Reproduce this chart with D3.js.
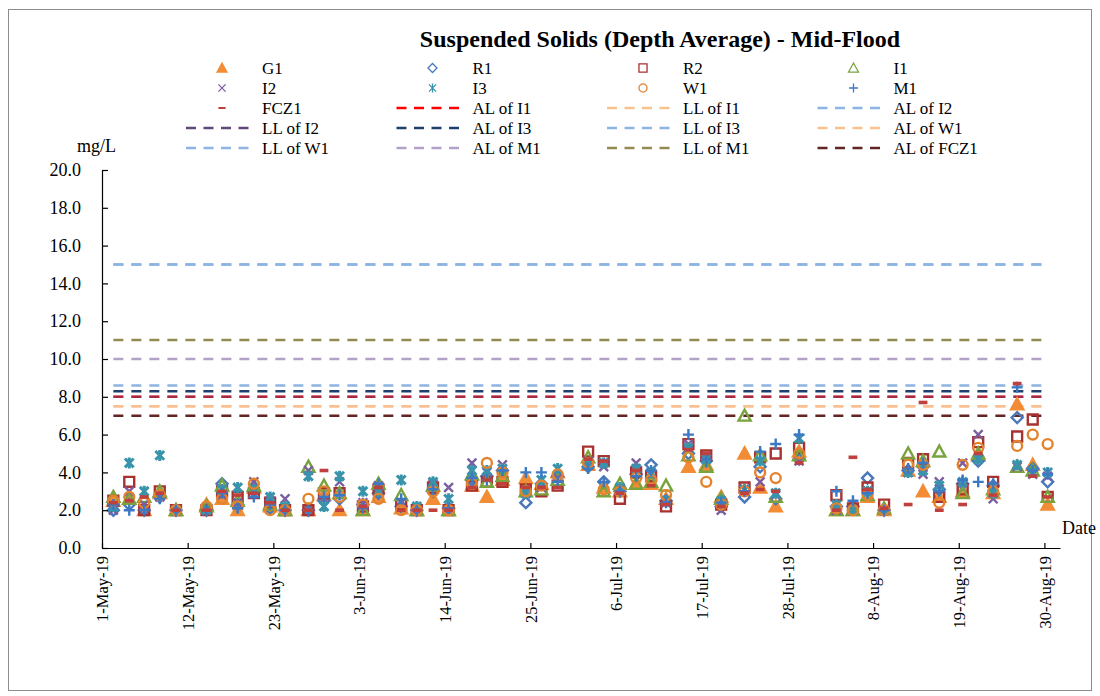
<!DOCTYPE html>
<html>
<head>
<meta charset="utf-8">
<script src="https://cdn.jsdelivr.net/npm/d3@7"></script>
<style>
body { margin: 0; background: #fff; }
svg text { font-family: "Liberation Serif", "Times New Roman", serif; fill: #000; }
</style>
</head>
<body>
<svg id="chart" width="1100" height="696"></svg>
<script>
// sampling times (mid-flood)
var sampleTimes = ["2019-05-02 11:00","2019-05-04 12:00","2019-05-06 10:00","2019-05-08 10:00","2019-05-10 12:00",
  "2019-05-14 10:00","2019-05-16 10:00","2019-05-18 10:00","2019-05-20 12:00","2019-05-22 14:00","2019-05-24 12:00",
  "2019-05-27 12:00","2019-05-29 12:00","2019-05-31 12:00","2019-06-03 12:00","2019-06-05 12:00","2019-06-08 10:00",
  "2019-06-10 10:00","2019-06-12 12:00","2019-06-14 12:00","2019-06-17 12:00","2019-06-19 10:00","2019-06-21 10:00",
  "2019-06-24 10:00","2019-06-26 10:00","2019-06-28 12:00","2019-07-02 10:00","2019-07-04 10:00","2019-07-06 12:00",
  "2019-07-08 14:00","2019-07-10 12:00","2019-07-12 10:00","2019-07-15 07:00","2019-07-17 14:00","2019-07-19 12:00",
  "2019-07-22 12:00","2019-07-24 12:00","2019-07-26 12:00","2019-07-29 12:00","2019-08-03 07:00","2019-08-05 10:00",
  "2019-08-07 07:00","2019-08-09 10:00","2019-08-12 12:00","2019-08-14 10:00","2019-08-16 12:00","2019-08-19 12:00",
  "2019-08-21 12:00","2019-08-23 10:00","2019-08-26 12:00","2019-08-28 12:00","2019-08-30 10:00"];

var g1 = [2.5,2.6,2.0,2.9,2.0,2.3,2.6,2.0,3.2,2.2,2.0,2.0,2.8,2.0,2.0,2.7,2.1,2.0,2.6,2.0,3.3,2.7,3.6,3.7,3.4,4.0,4.4,3.2,3.0,3.4,3.4,2.6,4.3,4.4,2.7,5.0,3.2,2.2,5.1,2.0,2.0,2.7,2.0,4.1,3.0,2.7,3.0,4.9,2.9,7.6,4.4,2.3];
var r1 = [2.0,2.3,2.0,2.7,2.0,2.0,3.4,2.3,3.0,2.1,2.0,2.0,2.5,2.6,2.3,2.9,2.2,2.0,3.0,2.1,3.6,3.8,4.1,2.4,3.4,3.8,4.3,3.5,3.0,3.9,4.4,2.5,5.0,4.6,2.2,2.7,4.3,2.6,4.7,2.2,2.2,3.7,2.0,4.1,4.3,3.1,3.4,4.6,3.3,6.9,4.2,3.5];
var r2 = [2.5,3.5,2.0,3.0,2.0,2.0,3.0,2.7,2.9,2.4,2.0,2.0,2.9,2.9,2.2,3.1,2.3,2.0,3.2,2.0,3.3,3.5,3.5,3.1,3.0,3.3,5.1,4.6,2.6,4.0,3.8,2.2,5.5,4.9,2.3,3.2,4.8,5.0,5.3,2.8,2.1,3.2,2.3,4.5,4.7,2.7,3.1,5.6,3.5,5.9,6.8,2.7];
var i1 = [2.7,2.6,2.7,3.0,2.0,2.2,3.3,2.5,3.3,2.3,2.0,4.3,3.3,2.9,2.0,3.4,2.8,2.0,3.3,2.0,3.9,3.5,3.8,3.0,3.1,3.6,4.8,3.0,3.4,3.4,3.5,3.3,4.9,4.3,2.6,7.0,4.9,2.7,4.9,2.0,2.0,2.8,2.1,5.0,4.6,5.1,2.9,5.0,3.1,4.3,4.1,2.7];
var i2 = [2.0,3.0,2.3,2.7,2.0,2.0,2.8,2.4,3.5,2.5,2.6,4.1,2.6,3.5,2.4,3.3,2.4,2.0,3.4,3.2,4.5,4.0,4.4,2.9,3.2,3.7,4.6,4.3,3.1,4.5,3.9,2.4,5.5,4.8,2.0,3.1,3.5,2.8,4.6,2.0,2.0,3.0,2.0,4.0,3.9,3.5,4.5,6.0,2.6,4.3,3.9,3.8];
var i3 = [2.2,4.5,3.0,4.9,2.0,2.0,3.1,3.2,3.1,2.7,2.2,3.8,2.2,3.8,3.0,3.0,3.6,2.2,3.5,2.6,4.1,4.1,4.2,2.9,3.6,4.2,4.5,4.5,3.2,4.2,4.0,2.5,5.3,4.7,2.5,3.1,4.6,2.9,5.8,2.3,2.0,3.0,2.0,4.0,4.1,3.3,3.5,4.7,2.9,4.4,4.0,4.0];
var w1 = [2.5,2.7,2.4,2.8,2.0,2.2,2.6,2.2,3.4,2.0,2.0,2.6,3.0,2.7,2.3,2.6,2.0,2.0,3.0,2.0,3.4,4.5,4.0,3.0,3.3,3.9,4.5,3.1,3.0,3.7,3.6,2.8,4.8,3.5,2.3,3.0,4.0,3.7,5.0,2.1,2.0,2.8,2.0,4.4,4.4,2.4,4.4,5.3,3.0,5.4,6.0,5.5];
var m1 = [2.3,2.0,2.0,2.6,2.0,2.0,2.9,2.1,2.7,2.3,2.0,2.0,2.7,2.8,2.1,3.4,2.6,2.0,3.1,2.1,3.7,3.6,4.1,4.0,4.0,3.5,4.2,3.5,3.0,3.8,4.1,2.4,6.0,4.7,2.4,3.0,5.1,5.5,6.0,3.0,2.5,2.9,2.0,4.2,4.5,3.0,3.6,3.5,3.4,8.5,4.1,3.9];
var fcz1 = [2.4,2.5,2.7,2.9,2.0,2.0,3.0,2.8,2.9,2.4,2.0,2.0,4.1,2.0,2.2,3.2,2.0,2.0,2.0,2.0,3.2,3.6,3.4,3.2,3.2,3.2,4.7,4.6,2.9,4.1,3.3,2.3,5.2,5.0,2.2,2.9,3.1,3.0,4.5,2.0,4.8,3.1,2.1,2.3,7.7,2.0,2.3,5.0,2.8,8.7,3.8,2.7];

var stationNames = ["G1","R1","R2","I1","I2","I3","W1","M1","FCZ1"];
var stationValues = [g1, r1, r2, i1, i2, i3, w1, m1, fcz1];

var limitNames = ["AL of I1","LL of I1","AL of I2","LL of I2","AL of I3","LL of I3","AL of W1","LL of W1","AL of M1","LL of M1","AL of FCZ1"];
var limitValues = [8.0, 7.5, 8.6, 8.0, 8.3, 15.0, 7.5, 15.0, 10.0, 11.0, 7.0];

var yTicks = [0,2,4,6,8,10,12,14,16,18,20];
var xTicks = ["2019-05-01","2019-05-12","2019-05-23","2019-06-03","2019-06-14","2019-06-25","2019-07-06","2019-07-17","2019-07-28","2019-08-08","2019-08-19","2019-08-30"];

// marker styles
var markerStyle = {
  "G1":   {shape: "triF",    color: "#F28C35"},
  "R1":   {shape: "diamond", color: "#4A78BA"},
  "R2":   {shape: "square",  color: "#A8322F"},
  "I1":   {shape: "tri",     color: "#79A33D"},
  "I2":   {shape: "x",       color: "#7B5EA0"},
  "I3":   {shape: "star",    color: "#3893AB"},
  "W1":   {shape: "circle",  color: "#E3832E"},
  "M1":   {shape: "plus",    color: "#3C79C2"},
  "FCZ1": {shape: "dash",    color: "#C0403D"}
};
var lineStyle = {
  "AL of I1":   {color: "#FF0000", op: 1},
  "LL of I1":   {color: "#FAC090", op: 1},
  "AL of I2":   {color: "#8DB4E2", op: 1},
  "LL of I2":   {color: "#604A7B", op: 0.55},
  "AL of I3":   {color: "#1F3F6E", op: 1},
  "LL of I3":   {color: "#8DB4E2", op: 1},
  "AL of W1":   {color: "#FAC090", op: 1},
  "LL of W1":   {color: "#8DB4E2", op: 1},
  "AL of M1":   {color: "#B3A2C7", op: 1},
  "LL of M1":   {color: "#948A54", op: 1},
  "AL of FCZ1": {color: "#632523", op: 1}
};

function markerPath(shape, s) {
  switch (shape) {
    case "triF":
    case "tri": return "M0," + (-1.1*s) + "L" + (1.1*s) + "," + (0.9*s) + "L" + (-1.1*s) + "," + (0.9*s) + "Z";
    case "diamond": return "M0," + (-s) + "L" + s + ",0L0," + s + "L" + (-s) + ",0Z";
    case "square": return "M" + (-0.9*s) + "," + (-0.9*s) + "h" + (1.8*s) + "v" + (1.8*s) + "h" + (-1.8*s) + "Z";
    case "circle": return d3.arc()({innerRadius: 0, outerRadius: 0.9*s, startAngle: 0, endAngle: 2*Math.PI});
    case "x": return "M" + (-0.8*s) + "," + (-0.8*s) + "L" + (0.8*s) + "," + (0.8*s) + "M" + (-0.8*s) + "," + (0.8*s) + "L" + (0.8*s) + "," + (-0.8*s);
    case "star": return "M" + (-0.8*s) + "," + (-0.8*s) + "L" + (0.8*s) + "," + (0.8*s) + "M" + (-0.8*s) + "," + (0.8*s) + "L" + (0.8*s) + "," + (-0.8*s) + "M0," + (-s) + "L0," + s;
    case "plus": return "M" + (-s) + ",0L" + s + ",0M0," + (-s) + "L0," + s;
    case "dash": return "M" + (-0.8*s) + ",0L" + (0.8*s) + ",0";
  }
}

function drawMarker(sel, name, s, sw) {
  var st = markerStyle[name];
  sel.append("path")
    .attr("d", markerPath(st.shape, s))
    .attr("fill", st.shape == "triF" ? st.color : "none")
    .attr("stroke", st.color)
    .attr("stroke-width", st.shape == "dash" ? sw * 1.5 : sw);
}

var parseTime = d3.timeParse("%Y-%m-%d %H:%M");
var parseDay = d3.timeParse("%Y-%m-%d");
var times = sampleTimes.map(parseTime);

var svg = d3.select("#chart");
svg.append("rect").attr("x", 8.5).attr("y", 9.5).attr("width", 1083).attr("height", 681)
  .attr("fill", "#fff").attr("stroke", "#8c8c8c").attr("stroke-width", 1);

var x = d3.scaleTime().domain([parseDay("2019-05-01"), parseDay("2019-09-01")]).range([102, 1060]);
var y = d3.scaleLinear().domain([0, 20]).range([548, 170]);

// title
svg.append("text").attr("x", 660).attr("y", 47).attr("text-anchor", "middle")
  .style("font-size", "24px").style("font-weight", "bold")
  .text("Suspended Solids (Depth Average) - Mid-Flood");

// legend
var legendNames = stationNames.concat(limitNames);
legendNames.forEach(function(name, i) {
  var col = i % 4, row = Math.floor(i / 4);
  var tx = 262 + col * 210.5, ty = 68 + row * 20;
  var g = svg.append("g");
  if (markerStyle[name]) {
    var m = g.append("g").attr("transform", "translate(" + (tx - 40) + "," + ty + ")");
    drawMarker(m, name, 4.5, 1.3);
  } else {
    var ls = lineStyle[name];
    g.append("line").attr("x1", tx - 76).attr("x2", tx - 11).attr("y1", ty).attr("y2", ty)
      .attr("stroke", ls.color).attr("stroke-width", 2.5).attr("stroke-dasharray", "10,7.5");
  }
  g.append("text").attr("x", tx).attr("y", ty).attr("dy", "0.35em")
    .style("font-size", "17px").text(name);
});

// axis titles
svg.append("text").attr("x", 77).attr("y", 152).style("font-size", "18px").text("mg/L");
svg.append("text").attr("x", 1062).attr("y", 534).style("font-size", "18px").text("Date");

// limit lines
limitNames.forEach(function(name, i) {
  var ls = lineStyle[name];
  svg.append("line")
    .attr("x1", x(times[0])).attr("x2", x(times[times.length - 1]))
    .attr("y1", y(limitValues[i])).attr("y2", y(limitValues[i]))
    .attr("stroke", ls.color).attr("stroke-opacity", ls.op)
    .attr("stroke-width", 2.5).attr("stroke-dasharray", "10,8");
});

// station markers
stationNames.forEach(function(name, k) {
  var g = svg.append("g");
  stationValues[k].forEach(function(v, j) {
    var m = g.append("g").attr("transform", "translate(" + x(times[j]) + "," + y(v) + ")");
    drawMarker(m, name, 5.5, name == "I3" ? 3 : 2.4);
  });
});

// axes
var yAxis = svg.append("g").attr("transform", "translate(102,0)")
  .call(d3.axisLeft(y).tickValues(yTicks).tickFormat(d3.format(".1f"))
    .tickSizeInner(-6).tickSizeOuter(0).tickPadding(21));
yAxis.selectAll("text").style("font-size", "18px");

var xAxis = svg.append("g").attr("transform", "translate(0,548)")
  .call(d3.axisBottom(x).tickValues(xTicks.map(parseDay)).tickFormat(d3.timeFormat("%-d-%b-%y"))
    .tickSizeInner(-5).tickSizeOuter(0));
xAxis.selectAll("text")
  .attr("transform", "rotate(-90)")
  .attr("text-anchor", "end")
  .attr("x", -8).attr("y", 0).attr("dy", "0.35em")
  .style("font-size", "16.5px");

svg.selectAll(".domain, .tick line").attr("stroke", "#000").attr("stroke-width", 1.2);
</script>
</body>
</html>
